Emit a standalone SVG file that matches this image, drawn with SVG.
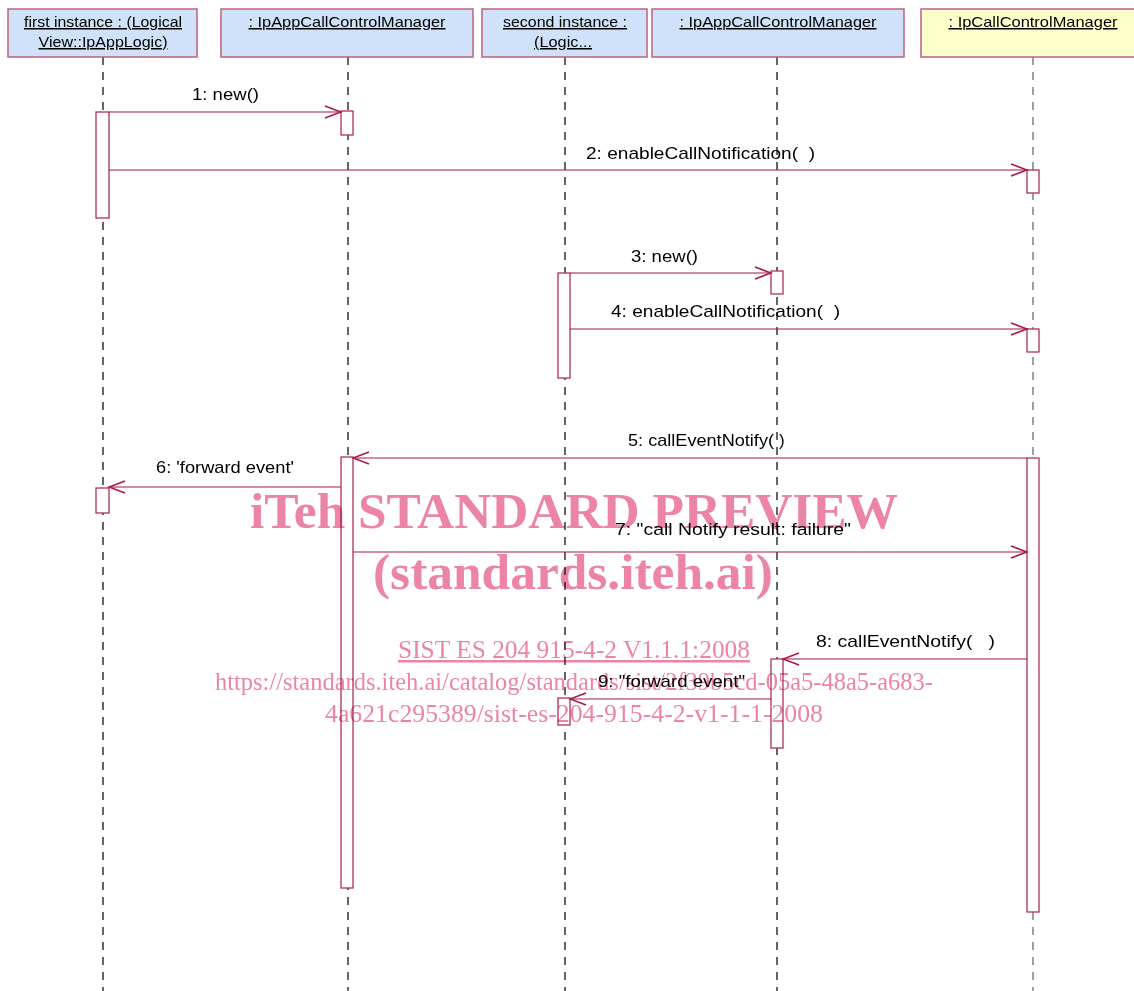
<svg xmlns="http://www.w3.org/2000/svg" width="1134" height="991" viewBox="0 0 1134 991">
<defs>
<style>
.hdr{fill:#cfe2f9;stroke:#c0607f;stroke-width:1.5}
.hdry{fill:#ffffcc;stroke:#c0607f;stroke-width:1.5}
.ht{font-family:"Liberation Sans",Arial,sans-serif;font-size:15px;fill:#000;text-anchor:middle;text-decoration:underline}
.life{stroke:#000;stroke-width:1.2;stroke-dasharray:8 7;fill:none}
.lifeg{stroke:#808080;stroke-width:1.5;stroke-dasharray:8 7;fill:none}
.act{fill:#fff;stroke:#b0305e;stroke-width:1.3}
.msg{stroke:#a8164c;stroke-width:1.2;fill:none;marker-end:url(#arr)}
.lbl{font-family:"Liberation Sans",Arial,sans-serif;font-size:17px;fill:#000}
.wm{font-family:"Liberation Serif","Times New Roman",serif;fill:#ec85a5}
</style>
<marker id="arr" markerUnits="userSpaceOnUse" markerWidth="20" markerHeight="16" refX="0" refY="0" viewBox="-18 -8 20 16" orient="auto">
<path d="M-16,-6 L0,0 L-16,6" fill="none" stroke="#a8164c" stroke-width="1.5"/>
</marker>
</defs>
<rect width="1134" height="991" fill="#fff"/>

<g id="node-first-instance">
<line class="life" x1="103" y1="57" x2="103" y2="991"/>
<rect class="hdr" x="8" y="9" width="189" height="48"/>
<text class="ht" x="103" y="27" textLength="158" lengthAdjust="spacingAndGlyphs">first instance : (Logical</text>
<text class="ht" x="103" y="47" textLength="129" lengthAdjust="spacingAndGlyphs">View::IpAppLogic)</text>
<rect class="act" x="96" y="112" width="13" height="106"/>
<rect class="act" x="96" y="488" width="13" height="25"/>
</g>

<g id="node-appmgr1">
<line class="life" x1="348" y1="57" x2="348" y2="991"/>
<rect class="hdr" x="221" y="9" width="252" height="48"/>
<text class="ht" x="347" y="27" textLength="197" lengthAdjust="spacingAndGlyphs">: IpAppCallControlManager</text>
<rect class="act" x="341" y="111" width="12" height="24"/>
<rect class="act" x="341" y="457" width="12" height="431"/>
</g>

<g id="node-second-instance">
<line class="life" x1="565" y1="57" x2="565" y2="991"/>
<rect class="hdr" x="482" y="9" width="165" height="48"/>
<text class="ht" x="565" y="27" textLength="124" lengthAdjust="spacingAndGlyphs">second instance :</text>
<text class="ht" x="563" y="47" textLength="58" lengthAdjust="spacingAndGlyphs">(Logic...</text>
<rect class="act" x="558" y="273" width="12" height="105"/>
<rect class="act" x="558" y="698" width="12" height="27"/>
</g>

<g id="node-appmgr2">
<line class="life" x1="777" y1="57" x2="777" y2="991"/>
<rect class="hdr" x="652" y="9" width="252" height="48"/>
<text class="ht" x="778" y="27" textLength="197" lengthAdjust="spacingAndGlyphs">: IpAppCallControlManager</text>
<rect class="act" x="771" y="271" width="12" height="23"/>
<rect class="act" x="771" y="659" width="12" height="89"/>
</g>

<g id="node-callmgr">
<line class="lifeg" x1="1033" y1="57" x2="1033" y2="991"/>
<rect class="hdry" x="921" y="9" width="224" height="48"/>
<text class="ht" x="1033" y="27" textLength="169" lengthAdjust="spacingAndGlyphs">: IpCallControlManager</text>
<rect class="act" x="1027" y="170" width="12" height="23"/>
<rect class="act" x="1027" y="329" width="12" height="23"/>
<rect class="act" x="1027" y="458" width="12" height="454"/>
</g>

<g id="connectors">
<line class="msg" x1="109" y1="112" x2="341" y2="112"/>
<text class="lbl" x="192" y="100" textLength="67" lengthAdjust="spacingAndGlyphs">1: new()</text>
<line class="msg" x1="109" y1="170" x2="1027" y2="170"/>
<text class="lbl" x="586" y="159" textLength="229" lengthAdjust="spacingAndGlyphs">2: enableCallNotification(&#160;&#160;)</text>
<line class="msg" x1="570" y1="273" x2="771" y2="273"/>
<text class="lbl" x="631" y="262" textLength="67" lengthAdjust="spacingAndGlyphs">3: new()</text>
<line class="msg" x1="570" y1="329" x2="1027" y2="329"/>
<text class="lbl" x="611" y="317" textLength="229" lengthAdjust="spacingAndGlyphs">4: enableCallNotification(&#160;&#160;)</text>
<line class="msg" x1="1027" y1="458" x2="353" y2="458"/>
<text class="lbl" x="628" y="446"><tspan textLength="146" lengthAdjust="spacingAndGlyphs">5: callEventNotify(</tspan><tspan x="779">)</tspan></text>
<line class="msg" x1="341" y1="487" x2="109" y2="487"/>
<text class="lbl" x="156" y="473" textLength="138" lengthAdjust="spacingAndGlyphs">6: 'forward event'</text>
<line class="msg" x1="353" y1="552" x2="1027" y2="552"/>
<text class="lbl" x="615" y="535" textLength="236" lengthAdjust="spacingAndGlyphs">7: "call Notify result: failure"</text>
<line class="msg" x1="1027" y1="659" x2="783" y2="659"/>
<text class="lbl" x="816" y="647" textLength="179" lengthAdjust="spacingAndGlyphs">8: callEventNotify(&#160;&#160;&#160;)</text>
<line class="msg" x1="771" y1="699" x2="570" y2="699"/>
<text class="lbl" x="598" y="687" textLength="147" lengthAdjust="spacingAndGlyphs">9: "forward event"</text>
</g>

<g id="watermark" style="mix-blend-mode:multiply">
<text class="wm" x="250" y="528" font-size="51" font-weight="bold" textLength="648" lengthAdjust="spacingAndGlyphs">iTeh STANDARD PREVIEW</text>
<text class="wm" x="373" y="589" font-size="51" font-weight="bold" textLength="400" lengthAdjust="spacingAndGlyphs">(standards.iteh.ai)</text>
<text class="wm" x="398" y="658" font-size="25" textLength="352" lengthAdjust="spacingAndGlyphs" text-decoration="underline">SIST ES 204 915-4-2 V1.1.1:2008</text>
<text class="wm" x="215" y="690" font-size="25" textLength="718" lengthAdjust="spacingAndGlyphs">https://standards.iteh.ai/catalog/standards/sist/2f39b5cd-05a5-48a5-a683-</text>
<text class="wm" x="325" y="722" font-size="25" textLength="498" lengthAdjust="spacingAndGlyphs">4a621c295389/sist-es-204-915-4-2-v1-1-1-2008</text>
</g>
</svg>
